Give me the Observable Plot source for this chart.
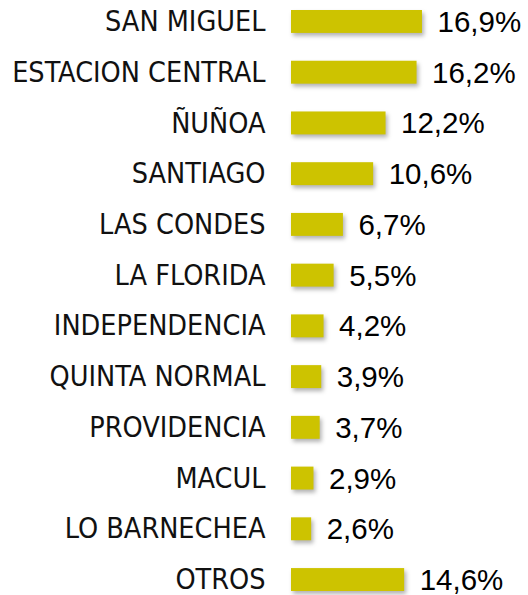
<!DOCTYPE html>
<html>
<head>
<meta charset="utf-8">
<script src="https://cdn.jsdelivr.net/npm/d3@7"></script>
<script src="https://cdn.jsdelivr.net/npm/@observablehq/plot@0.6"></script>
<style>
  html, body { margin: 0; padding: 0; background: #fff; }
  #chart svg { display: block; }
  g[aria-label="bar"] { filter: drop-shadow(2px 3px 2px rgba(0,0,0,0.3)); }
</style>
</head>
<body>
<div id="chart"></div>
<script>
const comunas = ["SAN MIGUEL", "ESTACION CENTRAL", "ÑUÑOA", "SANTIAGO", "LAS CONDES", "LA FLORIDA", "INDEPENDENCIA", "QUINTA NORMAL", "PROVIDENCIA", "MACUL", "LO BARNECHEA", "OTROS"];
const porcentajes = [16.9, 16.2, 12.2, 10.6, 6.7, 5.5, 4.2, 3.9, 3.7, 2.9, 2.6, 14.6];
const etiquetas = ["16,9%", "16,2%", "12,2%", "10,6%", "6,7%", "5,5%", "4,2%", "3,9%", "3,7%", "2,9%", "2,6%", "14,6%"];

const data = comunas.map((c, i) => ({comuna: c, valor: porcentajes[i], etiqueta: etiquetas[i]}));

const chart = Plot.plot({
  width: 528,
  height: 595,
  marginLeft: 291,
  marginRight: 82,
  marginTop: 10,
  marginBottom: 4,
  x: {domain: [0, 20], axis: null},
  y: {domain: comunas, axis: null, paddingInner: 0.548, paddingOuter: 0, round: false},
  marks: [
    Plot.barX(data, {y: "comuna", x: "valor", fill: "#CDC300"}),
    Plot.text(data, {
      y: "comuna", x: 0, text: "comuna", dx: -26, textAnchor: "end",
      fontSize: 28.5, fill: "#111",
      fontFamily: "'DejaVu Sans Condensed', 'DejaVu Sans', sans-serif"
    }),
    Plot.text(data, {
      y: "comuna", x: "valor", text: "etiqueta", dx: 15, dy: 0.5, textAnchor: "start",
      fontSize: 29.5, fill: "#000",
      fontFamily: "'Liberation Sans Narrow', 'Liberation Sans', Arial, sans-serif"
    })
  ]
});
chart.querySelectorAll('g[aria-label="text"]').forEach((g) => {
  g.style.fontStretch = "condensed";
});
document.getElementById("chart").appendChild(chart);
</script>
</body>
</html>
